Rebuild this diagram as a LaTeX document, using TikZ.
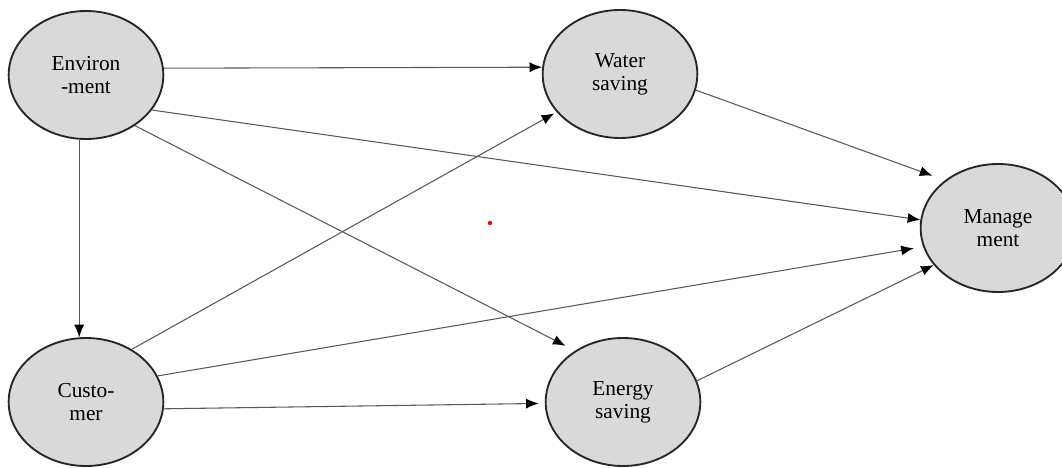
\documentclass[tikz,border=0pt]{standalone}
\usepackage{fontspec}
\setmainfont{Liberation Serif}
\usetikzlibrary{shapes.geometric,arrows.meta}
\tikzset{
	bubble/.style={ellipse, draw=black!85, line width=1.4pt, fill=black!15,
		minimum width=116pt, minimum height=96pt, inner sep=0pt, align=center,
		font=\fontsize{16}{17}\selectfont},
	link/.style={draw=black!65, line width=0.8pt,
		-{Latex[length=9.5pt,width=7.5pt,color=black]}}
}

\begin{document}
\begin{tikzpicture}[x=0.75pt, y=-0.75pt]
	\useasboundingbox (0,0) rectangle (1062,467);
	\clip (0,0) rectangle (1062,467);

	\node[bubble] (env) at (86,75) {Environ\\-ment};
	\node[bubble] (water) at (620,74) {Water\\saving};
	\node[bubble] (mgmt) at (998,228) {Manage\\ment};
	\node[bubble] (cust) at (86,402) {Custo-\\mer};
	\node[bubble] (energy) at (623,402) {Energy\\saving};

	\draw[link] (env.5) -- (water.175);
	\draw[link] (env.-28) -- (mgmt.174);
	\draw[link, shorten >=8pt] (env.-46) -- (energy.133);
	\draw[link] (env.264) -- (cust.96);
	\draw[link, shorten >=2pt] (cust.49) -- (water.211);
	\draw[link, shorten >=7pt] (cust.20) -- (mgmt.194);
	\draw[link, shorten >=4.5pt] (cust.-5) -- (energy.181);
	\draw[link, shorten >=10pt] (water.-12) -- (mgmt.138);
	\draw[link] (energy.16) -- (mgmt.210);

	\fill[red] (490,223) circle (2.2);
\end{tikzpicture}
\end{document}
